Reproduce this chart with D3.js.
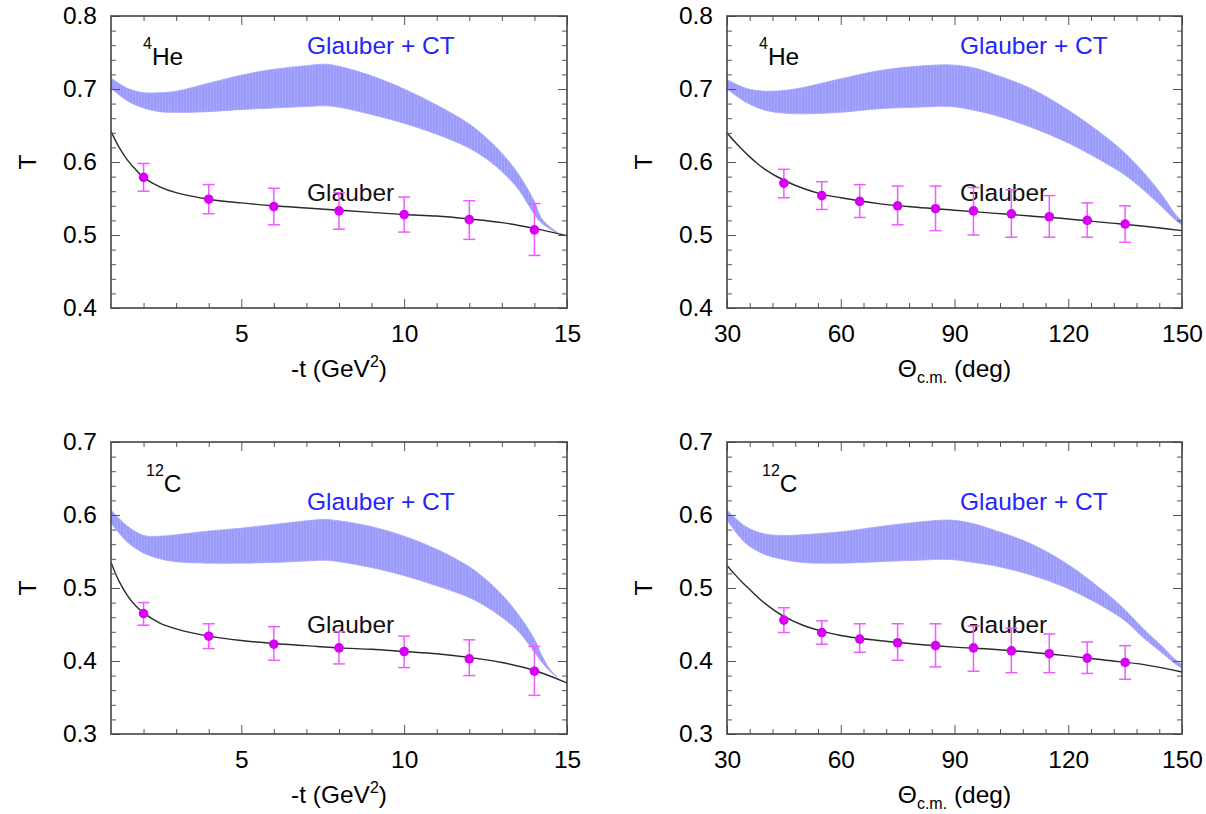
<!DOCTYPE html>
<html>
<head>
<meta charset="utf-8">
<script src="https://cdn.jsdelivr.net/npm/d3@7"></script>
<style>
  body { margin: 0; background: #fff; }
  svg text { font-family: "Liberation Sans", Arial, Helvetica, sans-serif; }
</style>
</head>
<body>
<svg id="chart" width="1206" height="814"></svg>
<script>
// ---- data points (measured T with error bars) ----
const tPoints = [2, 4, 6, 8, 10, 12, 14];
const heTValue = [0.579, 0.549, 0.539, 0.533, 0.528, 0.521, 0.507];
const heTErrLo = [0.560, 0.529, 0.514, 0.508, 0.504, 0.494, 0.472];
const heTErrHi = [0.598, 0.569, 0.564, 0.558, 0.552, 0.547, 0.543];
const cTValue = [0.465, 0.434, 0.423, 0.418, 0.413, 0.403, 0.386];
const cTErrLo = [0.449, 0.417, 0.401, 0.396, 0.391, 0.380, 0.353];
const cTErrHi = [0.480, 0.451, 0.447, 0.440, 0.434, 0.429, 0.420];

const thPoints = [45, 55, 65, 75, 85, 95, 105, 115, 125, 135];
const heThValue = [0.571, 0.554, 0.546, 0.540, 0.536, 0.533, 0.529, 0.525, 0.520, 0.515];
const heThErrLo = [0.551, 0.535, 0.524, 0.514, 0.506, 0.500, 0.497, 0.497, 0.497, 0.490];
const heThErrHi = [0.590, 0.573, 0.569, 0.567, 0.567, 0.565, 0.562, 0.554, 0.544, 0.540];
const cThValue = [0.456, 0.439, 0.430, 0.425, 0.421, 0.418, 0.414, 0.410, 0.404, 0.398];
const cThErrLo = [0.439, 0.423, 0.412, 0.401, 0.392, 0.386, 0.384, 0.384, 0.383, 0.375];
const cThErrHi = [0.473, 0.455, 0.451, 0.451, 0.451, 0.448, 0.445, 0.437, 0.426, 0.421];

// ---- Glauber curves ----
const tCurveX = [1, 1.25, 1.5, 1.75, 2, 2.5, 3, 4, 5, 6, 7, 8, 9, 10, 11, 12, 13, 14, 15];
const heTCurve = [0.642, 0.620, 0.603, 0.590, 0.579, 0.566, 0.558, 0.549, 0.544, 0.540, 0.537, 0.534, 0.531, 0.528, 0.526, 0.522, 0.517, 0.509, 0.499];
const cTCurve = [0.535, 0.509, 0.490, 0.476, 0.466, 0.452, 0.444, 0.434, 0.428, 0.424, 0.421, 0.418, 0.416, 0.413, 0.410, 0.405, 0.398, 0.387, 0.370];

const thCurveX = [30, 32, 34, 36, 38, 40, 45, 50, 55, 60, 70, 80, 90, 100, 110, 120, 130, 140, 150];
const heThCurve = [0.640, 0.628, 0.617, 0.607, 0.598, 0.590, 0.575, 0.564, 0.556, 0.551, 0.543, 0.538, 0.534, 0.530, 0.526, 0.522, 0.517, 0.512, 0.506];
const cThCurve = [0.531, 0.519, 0.508, 0.498, 0.488, 0.479, 0.461, 0.449, 0.441, 0.435, 0.428, 0.423, 0.419, 0.416, 0.412, 0.407, 0.401, 0.395, 0.385];

// ---- Glauber + CT bands ----
const tBandX = [1, 1.5, 2, 2.5, 3, 4, 5, 6, 7, 7.6, 8, 9, 10, 11, 12, 12.5, 13, 13.5, 14, 14.2, 14.45, 14.7];
const heTBandHi = [0.715, 0.701, 0.695, 0.695, 0.697, 0.708, 0.719, 0.727, 0.732, 0.734, 0.731, 0.718, 0.700, 0.678, 0.652, 0.634, 0.612, 0.584, 0.546, 0.524, 0.512, 0.504];
const heTBandLo = [0.701, 0.684, 0.674, 0.669, 0.668, 0.669, 0.672, 0.674, 0.676, 0.677, 0.675, 0.665, 0.653, 0.638, 0.619, 0.605, 0.587, 0.563, 0.528, 0.517, 0.509, 0.503];
const cTBandHi = [0.607, 0.585, 0.572, 0.571, 0.573, 0.578, 0.582, 0.587, 0.592, 0.594, 0.592, 0.584, 0.571, 0.553, 0.529, 0.512, 0.491, 0.464, 0.430, 0.410, 0.390, 0.378];
const cTBandLo = [0.589, 0.563, 0.548, 0.540, 0.536, 0.534, 0.534, 0.535, 0.537, 0.538, 0.536, 0.528, 0.517, 0.503, 0.487, 0.475, 0.460, 0.441, 0.412, 0.400, 0.387, 0.378];

const thBandX = [30, 35, 40, 45, 50, 60, 70, 80, 89, 95, 100, 110, 120, 130, 135, 140, 145, 148, 150];
const heThBandHi = [0.713, 0.701, 0.697, 0.698, 0.702, 0.714, 0.725, 0.731, 0.733, 0.729, 0.721, 0.701, 0.671, 0.634, 0.612, 0.585, 0.553, 0.530, 0.519];
const heThBandLo = [0.700, 0.682, 0.671, 0.667, 0.666, 0.668, 0.673, 0.675, 0.676, 0.671, 0.665, 0.648, 0.626, 0.598, 0.582, 0.561, 0.537, 0.522, 0.513];
const cThBandHi = [0.607, 0.584, 0.574, 0.572, 0.573, 0.577, 0.584, 0.590, 0.593, 0.588, 0.580, 0.561, 0.532, 0.493, 0.470, 0.443, 0.419, 0.403, 0.395];
const cThBandLo = [0.593, 0.561, 0.546, 0.539, 0.535, 0.534, 0.536, 0.538, 0.539, 0.535, 0.531, 0.518, 0.499, 0.472, 0.455, 0.431, 0.410, 0.397, 0.390];

// ---- axes ----
const tTicks = [5, 10, 15];
const thTicks = [30, 60, 90, 120, 150];
const heYTicks = [0.4, 0.5, 0.6, 0.7, 0.8];
const cYTicks = [0.3, 0.4, 0.5, 0.6, 0.7];

const svg = d3.select("#chart");
const FONT = 24.5;
const SMALL = 16;

// vertical-stripe fill used by the CT band
const defs = svg.append("defs");
const pat = defs.append("pattern")
  .attr("id", "stripes")
  .attr("patternUnits", "userSpaceOnUse")
  .attr("width", 3).attr("height", 10);
pat.append("rect").attr("width", 3).attr("height", 10).attr("fill", "#9a9afa");
pat.append("rect").attr("width", 1).attr("height", 10).attr("fill", "#a8a8fb");

const panels = [
  {
    id: "tl", left: 111, top: 16, width: 456, height: 292,
    xDomain: [1, 15], yDomain: [0.4, 0.8], xTicks: tTicks, xMinor: d3.range(2, 15, 1),
    yTicks: heYTicks, kind: "t", nucleus: ["4", "He"],
    curveX: tCurveX, curve: heTCurve,
    bandX: tBandX, bandLo: heTBandLo, bandHi: heTBandHi,
    px: tPoints, pv: heTValue, pLo: heTErrLo, pHi: heTErrHi,
    nucPos: [32, 49], ctPos: [196, 38], glPos: [196, 185]
  },
  {
    id: "tr", left: 727, top: 16, width: 455, height: 292,
    xDomain: [30, 150], yDomain: [0.4, 0.8], xTicks: thTicks, xMinor: d3.range(36, 150, 6),
    yTicks: heYTicks, kind: "th", nucleus: ["4", "He"],
    curveX: thCurveX, curve: heThCurve,
    bandX: thBandX, bandLo: heThBandLo, bandHi: heThBandHi,
    px: thPoints, pv: heThValue, pLo: heThErrLo, pHi: heThErrHi,
    nucPos: [32, 49], ctPos: [233, 38], glPos: [233, 185]
  },
  {
    id: "bl", left: 111, top: 442, width: 456, height: 292,
    xDomain: [1, 15], yDomain: [0.3, 0.7], xTicks: tTicks, xMinor: d3.range(2, 15, 1),
    yTicks: cYTicks, kind: "t", nucleus: ["12", "C"],
    curveX: tCurveX, curve: cTCurve,
    bandX: tBandX, bandLo: cTBandLo, bandHi: cTBandHi,
    px: tPoints, pv: cTValue, pLo: cTErrLo, pHi: cTErrHi,
    nucPos: [35, 50], ctPos: [196, 68], glPos: [196, 191]
  },
  {
    id: "br", left: 727, top: 442, width: 455, height: 292,
    xDomain: [30, 150], yDomain: [0.3, 0.7], xTicks: thTicks, xMinor: d3.range(36, 150, 6),
    yTicks: cYTicks, kind: "th", nucleus: ["12", "C"],
    curveX: thCurveX, curve: cThCurve,
    bandX: thBandX, bandLo: cThBandLo, bandHi: cThBandHi,
    px: thPoints, pv: cThValue, pLo: cThErrLo, pHi: cThErrHi,
    nucPos: [35, 50], ctPos: [233, 68], glPos: [233, 191]
  }
];

panels.forEach(drawPanel);

function drawPanel(p) {
  const g = svg.append("g").attr("class", "panel-" + p.id);
  const x = d3.scaleLinear().domain(p.xDomain).range([p.left, p.left + p.width]);
  const y = d3.scaleLinear().domain(p.yDomain).range([p.top + p.height, p.top]);

  defs.append("clipPath").attr("id", "clip-" + p.id)
    .append("rect")
    .attr("x", p.left).attr("y", p.top)
    .attr("width", p.width).attr("height", p.height);

  const plot = g.append("g").attr("clip-path", `url(#clip-${p.id})`);

  // Glauber + CT band
  const band = p.bandX.map((v, i) => ({ x: v, lo: p.bandLo[i], hi: p.bandHi[i] }));
  const area = d3.area()
    .x(d => x(d.x))
    .y0(d => y(d.lo))
    .y1(d => y(d.hi))
    .curve(d3.curveCatmullRom.alpha(0.5));
  plot.append("path")
    .datum(band)
    .attr("d", area)
    .attr("fill", "url(#stripes)")
    .attr("stroke", "#a4a4fb")
    .attr("stroke-width", 0.8);

  // Glauber curve
  const curve = p.curveX.map((v, i) => ({ x: v, y: p.curve[i] }));
  const line = d3.line().x(d => x(d.x)).y(d => y(d.y)).curve(d3.curveCatmullRom.alpha(0.5));
  plot.append("path")
    .datum(curve)
    .attr("d", line)
    .attr("fill", "none")
    .attr("stroke", "#2a2a2a")
    .attr("stroke-width", 1.4);

  // labels inside the frame
  const nuc = g.append("text")
    .attr("x", p.left + p.nucPos[0])
    .attr("y", p.top + p.nucPos[1])
    .attr("fill", "#000")
    .style("font-size", FONT + "px");
  nuc.append("tspan").attr("dy", -16).style("font-size", SMALL + "px").text(p.nucleus[0]);
  nuc.append("tspan").attr("dy", 16).text(p.nucleus[1]);

  g.append("text")
    .attr("x", p.left + p.ctPos[0])
    .attr("y", p.top + p.ctPos[1])
    .attr("fill", "#2424ff")
    .style("font-size", FONT + "px")
    .text("Glauber + CT");

  g.append("text")
    .attr("x", p.left + p.glPos[0])
    .attr("y", p.top + p.glPos[1])
    .attr("fill", "#111")
    .style("font-size", FONT + "px")
    .text("Glauber");

  // data with error bars
  const pts = p.px.map((v, i) => ({ x: v, v: p.pv[i], lo: p.pLo[i], hi: p.pHi[i] }));
  const eb = g.append("g")
    .attr("stroke", "#ee5cff")
    .attr("stroke-width", 1.5)
    .attr("fill", "none");
  eb.selectAll("line.v").data(pts).join("line")
    .attr("class", "v")
    .attr("x1", d => x(d.x)).attr("x2", d => x(d.x))
    .attr("y1", d => y(d.lo)).attr("y2", d => y(d.hi));
  eb.selectAll("line.cl").data(pts).join("line")
    .attr("class", "cl")
    .attr("x1", d => x(d.x) - 6).attr("x2", d => x(d.x) + 6)
    .attr("y1", d => y(d.lo)).attr("y2", d => y(d.lo));
  eb.selectAll("line.ch").data(pts).join("line")
    .attr("class", "ch")
    .attr("x1", d => x(d.x) - 6).attr("x2", d => x(d.x) + 6)
    .attr("y1", d => y(d.hi)).attr("y2", d => y(d.hi));
  g.append("g").selectAll("circle").data(pts).join("circle")
    .attr("cx", d => x(d.x))
    .attr("cy", d => y(d.v))
    .attr("r", 4.8)
    .attr("fill", "#d800f4");

  // axes: ticks pointing inward on all four sides
  const yMinor = d3.range(p.yDomain[0], p.yDomain[1] + 1e-9, 0.02)
    .filter(v => !p.yTicks.some(t => Math.abs(t - v) < 1e-6));
  const xMinor = p.xMinor.filter(v => !p.xTicks.includes(v));
  const bottom = p.top + p.height, right = p.left + p.width;

  function styleAxis(sel) {
    sel.select(".domain").remove();
    sel.selectAll(".tick line").attr("stroke", "#555").attr("stroke-width", 1);
    sel.selectAll(".tick text")
      .attr("fill", "#000")
      .style("font-size", FONT + "px")
      .style("font-family", '"Liberation Sans", Arial, sans-serif');
  }

  g.append("g").attr("transform", `translate(0,${bottom})`)
    .call(d3.axisBottom(x).tickValues(p.xTicks).tickSize(-9).tickPadding(17)
      .tickFormat(d3.format("d")))
    .call(styleAxis);
  g.append("g").attr("transform", `translate(0,${bottom})`)
    .call(d3.axisBottom(x).tickValues(xMinor).tickSize(-5).tickFormat(""))
    .call(styleAxis);
  g.append("g").attr("transform", `translate(0,${p.top})`)
    .call(d3.axisTop(x).tickValues(p.xTicks).tickSize(-9).tickFormat(""))
    .call(styleAxis);
  g.append("g").attr("transform", `translate(0,${p.top})`)
    .call(d3.axisTop(x).tickValues(xMinor).tickSize(-5).tickFormat(""))
    .call(styleAxis);

  g.append("g").attr("transform", `translate(${p.left},0)`)
    .call(d3.axisLeft(y).tickValues(p.yTicks).tickSize(-9).tickPadding(14)
      .tickFormat(d3.format(".1f")))
    .call(styleAxis);
  g.append("g").attr("transform", `translate(${p.left},0)`)
    .call(d3.axisLeft(y).tickValues(yMinor).tickSize(-5).tickFormat(""))
    .call(styleAxis);
  g.append("g").attr("transform", `translate(${right},0)`)
    .call(d3.axisRight(y).tickValues(p.yTicks).tickSize(-9).tickFormat(""))
    .call(styleAxis);
  g.append("g").attr("transform", `translate(${right},0)`)
    .call(d3.axisRight(y).tickValues(yMinor).tickSize(-5).tickFormat(""))
    .call(styleAxis);

  // frame
  g.append("rect")
    .attr("x", p.left).attr("y", p.top)
    .attr("width", p.width).attr("height", p.height)
    .attr("fill", "none")
    .attr("stroke", "#444")
    .attr("stroke-width", 1.6);

  // axis titles
  const xt = g.append("text")
    .attr("x", p.left + p.width / 2)
    .attr("y", bottom + 69)
    .attr("text-anchor", "middle")
    .attr("fill", "#000")
    .style("font-size", FONT + "px");
  if (p.kind === "t") {
    xt.append("tspan").text("-t (GeV");
    xt.append("tspan").attr("dy", -10).style("font-size", SMALL + "px").text("2");
    xt.append("tspan").attr("dy", 10).text(")");
  } else {
    xt.append("tspan").text("Θ");
    xt.append("tspan").attr("dy", 6).style("font-size", SMALL + "px").text("c.m.");
    xt.append("tspan").attr("dy", -6).text(" (deg)");
  }

  g.append("text")
    .attr("transform", `translate(${p.left - 75},${p.top + p.height / 2}) rotate(-90)`)
    .attr("text-anchor", "middle")
    .attr("fill", "#000")
    .style("font-size", FONT + "px")
    .text("T");
}
</script>
</body>
</html>
